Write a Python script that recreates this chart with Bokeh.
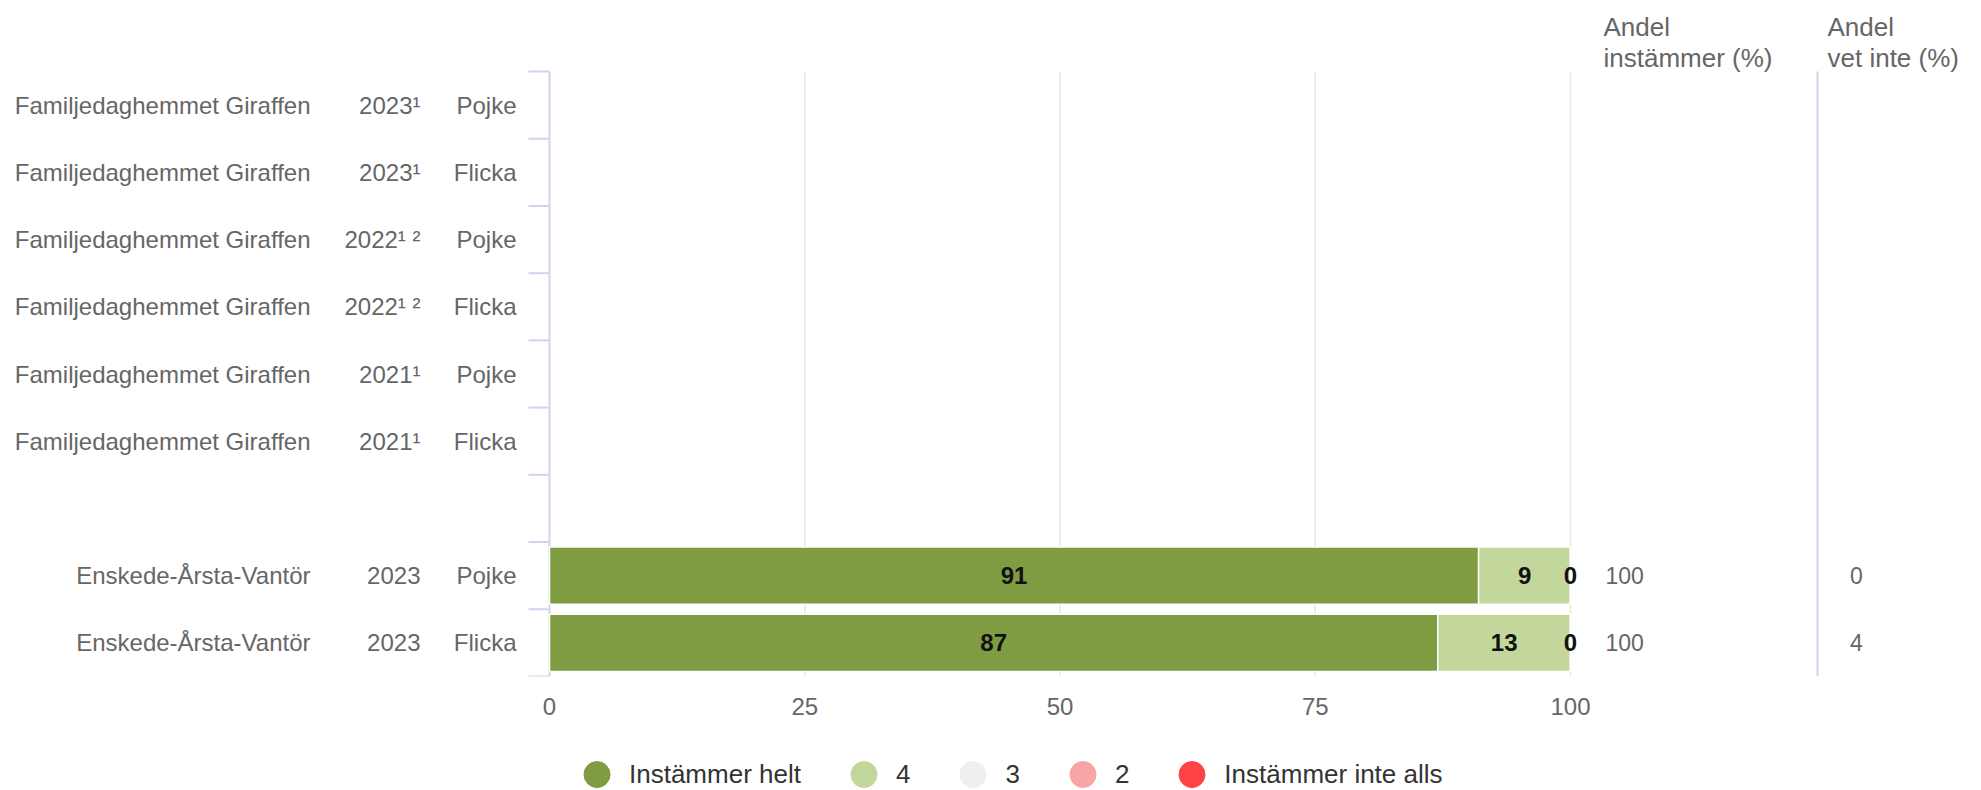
from bokeh.plotting import figure
from bokeh.layouts import column
from bokeh.models import Range1d, ColumnDataSource, LinearAxis, FixedTicker, Legend, LegendItem
from bokeh.core.properties import value
from bokeh.embed import file_html
from bokeh.resources import INLINE

nan = float("nan")

# ---- data ----
units = ["Familjedaghemmet Giraffen"] * 6 + ["", "Enskede-Årsta-Vantör", "Enskede-Årsta-Vantör"]
years = ["2023¹", "2023¹", "2022¹ ²", "2022¹ ²", "2021¹", "2021¹", "", "2023", "2023"]
genders = ["Pojke", "Flicka", "Pojke", "Flicka", "Pojke", "Flicka", "", "Pojke", "Flicka"]
series_names = ["Instämmer helt", "4", "3", "2", "Instämmer inte alls"]
series_colors = ["#7f9c43", "#c3d69b", "#efefef", "#f7a5a5", "#ff4343"]
helt = [nan] * 7 + [91, 87]
four = [nan] * 7 + [9, 13]
three = [nan] * 7 + [0, 0]
two = [nan] * 7 + [0, 0]
inte_alls = [nan] * 7 + [0, 0]
andel_instammer = [None] * 7 + [100, 100]
andel_vet_inte = [None] * 7 + [0, 4]
x_ticks = [0, 25, 50, 75, 100]
header1 = ["Andel", "instämmer (%)"]
header2 = ["Andel", "vet inte (%)"]

# ---- layout helpers (canvas pixels -> data) ----
W = 1975
TOTAL_H = 790
LEG_H = 32
H = TOTAL_H - LEG_H
X0, X100 = 549.0, 1570.0       # canvas px of x=0 and x=100
S = (X100 - X0) / 100.0
TOP, BOT = 71.0, 676.0         # plot area top/bottom in canvas px
n_rows = len(units)
P = (BOT - TOP) / n_rows


def xd(px):
    return (px - X0) / S


def yd(py):
    return -0.5 + (py - TOP) / P


FONT = value("Liberation Sans")
GREY = "#666666"
LINE = "#ccd6eb"
GRID = "#e6e6e6"

p = figure(width=W, height=H, output_backend="svg", toolbar_location=None,
           x_range=Range1d(xd(0), xd(W)), y_range=Range1d(yd(BOT), yd(0)),
           x_axis_location=None, y_axis_location=None,
           min_border=0, min_border_left=0, min_border_right=0, min_border_top=0,
           min_border_bottom=int(H - BOT), outline_line_color=None)
p.grid.visible = False

rows = list(range(n_rows))

# grid lines
grid_x = [t for t in x_ticks if t > 0]
p.segment(x0=grid_x, x1=grid_x, y0=[-0.5] * len(grid_x), y1=[n_rows - 0.5] * len(grid_x),
          line_color=GRID, line_width=1.5)

# left axis line + category ticks
p.segment(x0=[0], x1=[0], y0=[-0.5], y1=[n_rows - 0.5], line_color=LINE, line_width=2)
bounds = [r - 0.5 for r in range(n_rows + 1)]
p.segment(x0=[xd(X0 - 21)] * len(bounds), x1=[0] * len(bounds), y0=bounds, y1=bounds,
          line_color=LINE, line_width=2)

# separator line between the two value columns
p.segment(x0=[xd(1817)], x1=[xd(1817)], y0=[-0.5], y1=[n_rows - 0.5], line_color=LINE, line_width=2)

# stacked bars
src = ColumnDataSource(dict(y=rows, helt=helt, four=four, three=three, two=two, inte=inte_alls))
stack_cols = ["helt", "four", "three", "two", "inte"]
p.hbar_stack(stack_cols, y="y", height=0.85, color=series_colors, line_color="white",
             line_width=1.5, source=src)

# data labels (centred in each segment)
lx, ly, lt = [], [], []
for i in rows:
    vals = [helt[i], four[i], three[i]]
    if any(v != v for v in vals):
        continue
    cum = 0
    for v in vals:
        lx.append(cum + v / 2)
        ly.append(i)
        lt.append(str(v))
        cum += v
p.text(x=lx, y=ly, text=lt, text_align="center", text_baseline="middle",
       text_font=FONT, text_font_size="24px", text_font_style="bold", text_color="#111111")

# category labels (three columns)
p.text(x=[xd(310)] * n_rows, y=rows, text=units, text_align="right", text_baseline="middle",
       text_font=FONT, text_font_size="24px", text_color=GREY)
p.text(x=[xd(420)] * n_rows, y=rows, text=years, text_align="right", text_baseline="middle",
       text_font=FONT, text_font_size="24px", text_color=GREY)
p.text(x=[xd(516)] * n_rows, y=rows, text=genders, text_align="right", text_baseline="middle",
       text_font=FONT, text_font_size="24px", text_color=GREY)

# value columns
vi_rows = [i for i in rows if andel_instammer[i] is not None]
p.text(x=[xd(1605)] * len(vi_rows), y=vi_rows, text=[str(andel_instammer[i]) for i in vi_rows],
       text_align="left", text_baseline="middle", text_font=FONT, text_font_size="23px", text_color=GREY)
vv_rows = [i for i in rows if andel_vet_inte[i] is not None]
p.text(x=[xd(1856)] * len(vv_rows), y=vv_rows, text=[str(andel_vet_inte[i]) for i in vv_rows],
       text_align="center", text_baseline="middle", text_font=FONT, text_font_size="23px", text_color=GREY)

# headers
p.text(x=[xd(1603)] * 2, y=[yd(26), yd(57)], text=header1, text_align="left", text_baseline="middle",
       text_font=FONT, text_font_size="26px", text_color=GREY)
p.text(x=[xd(1827)] * 2, y=[yd(26), yd(57)], text=header2, text_align="left", text_baseline="middle",
       text_font=FONT, text_font_size="26px", text_color=GREY)

# x axis
xaxis = LinearAxis(ticker=FixedTicker(ticks=x_ticks), axis_line_color=None,
                   major_tick_line_color=None, minor_tick_line_color=None,
                   major_label_standoff=15, major_label_text_color=GREY,
                   major_label_text_font="Liberation Sans", major_label_text_font_size="24px")
p.add_layout(xaxis, "below")

# legend (separate strip below the chart)
p2 = figure(width=W, height=LEG_H, output_backend="svg", toolbar_location=None,
            x_range=Range1d(0, 1), y_range=Range1d(0, 1),
            x_axis_location=None, y_axis_location=None,
            min_border=0, min_border_left=0, min_border_right=0, min_border_top=0,
            min_border_bottom=0, outline_line_color=None)
p2.grid.visible = False
items = []
for name, c in zip(series_names, series_colors):
    # legend proxies: one point each, placed outside the visible range
    r = p2.scatter(x=[5], y=[5], marker="circle", size=26, fill_color=c, line_color=c)
    items.append(LegendItem(label=name, renderers=[r]))
legend = Legend(items=items, orientation="horizontal", location="left",
                glyph_width=65, glyph_height=65, label_standoff=-3, spacing=30, label_width=0,
                padding=0, margin=564, border_line_color=None, background_fill_alpha=0,
                label_text_font="Liberation Sans", label_text_font_size="26px",
                label_text_color="#333333")
p2.add_layout(legend, "center")

layout = column(p, p2, spacing=0)
open("out.html", "w").write(file_html(layout, INLINE))
